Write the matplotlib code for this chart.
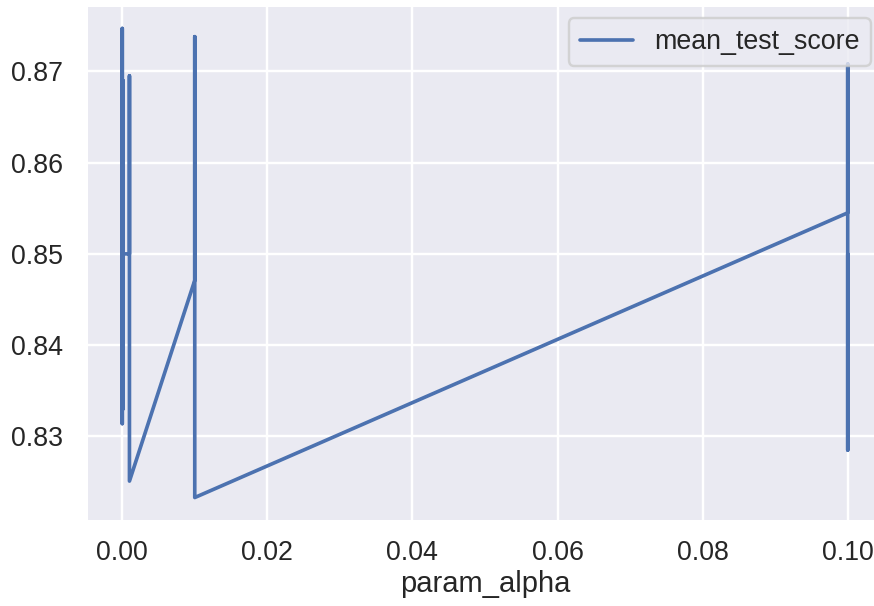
import matplotlib
matplotlib.use("Agg")
import matplotlib.pyplot as plt
import seaborn as sns

# grid search results, kept in grid order (sorted by alpha)
param_alpha = [0.00001, 0.00001, 0.00001, 0.00001,
               0.0001, 0.0001, 0.0001, 0.0001,
               0.001, 0.001, 0.001, 0.001,
               0.01, 0.01, 0.01, 0.01,
               0.1, 0.1, 0.1, 0.1]
mean_test_score = [0.8420, 0.8747, 0.8314, 0.8600,
                   0.8355, 0.8690, 0.8330, 0.8500,
                   0.8500, 0.8695, 0.8300, 0.8251,
                   0.8471, 0.8738, 0.8400, 0.8233,
                   0.8545, 0.8708, 0.8285, 0.8500]
x_ticks = [0.00, 0.02, 0.04, 0.06, 0.08, 0.10]
y_ticks = [0.83, 0.84, 0.85, 0.86, 0.87]

sns.set_theme()
plt.rcParams['font.family'] = ['Liberation Sans', 'DejaVu Sans']

dpi = 175
fig = plt.figure(figsize=(874 / dpi, 606 / dpi), dpi=dpi)
# the reference is cropped on the right, so the axes run past the figure edge
ax = fig.add_axes([86 / 874, 85 / 606, 798 / 874, 516 / 606])

ax.plot(param_alpha, mean_test_score, label="mean_test_score")
ax.set_xticks(x_ticks)
ax.set_xticklabels(["%.2f" % t for t in x_ticks])
ax.set_yticks(y_ticks)
ax.set_yticklabels(["%.2f" % t for t in y_ticks])
ax.tick_params(axis="x", pad=2)
ax.set_xlabel("param_alpha", labelpad=1.5)
ax.legend(loc="upper right")

fig.savefig("out.png", dpi=dpi)
